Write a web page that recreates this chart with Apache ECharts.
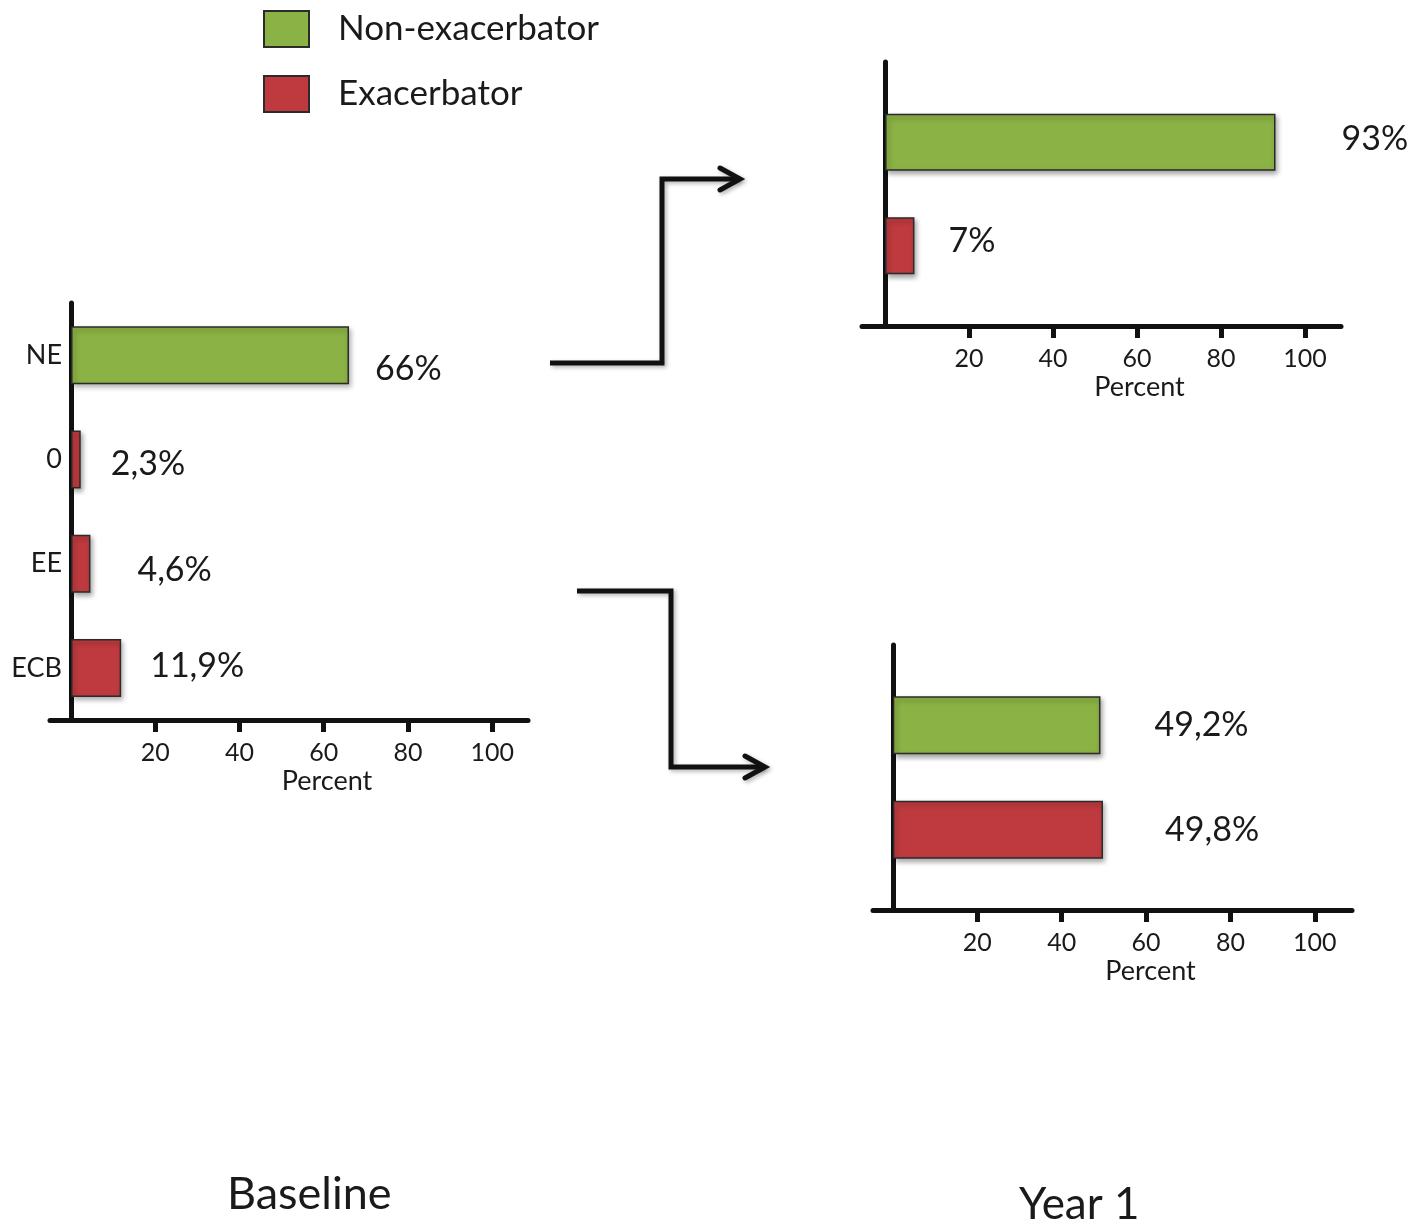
<!DOCTYPE html>
<html>
<head>
<meta charset="utf-8">
<script src="https://cdn.jsdelivr.net/npm/echarts@6/dist/echarts.min.js"></script>
<style>
  html, body { margin: 0; padding: 0; background: #fff; }
  #chart { width: 1426px; height: 1224px; }
</style>
</head>
<body>
<div id="chart"></div>
<script>
// ---- data ----
const seriesNames = ['Non-exacerbator', 'Exacerbator'];
const baselineCategories = ['NE', '0', 'EE', 'ECB'];
const baselineNonExacerbator = [66, null, null, null];
const baselineExacerbator = [null, 2.3, 4.6, 11.9];
const year1TopNonExacerbator = [93];
const year1TopExacerbator = [7];
const year1BottomNonExacerbator = [49.2];
const year1BottomExacerbator = [49.8];
const percentTicks = [20, 40, 60, 80, 100];
const panelTitles = ['Baseline', 'Year 1'];
const axisName = 'Percent';

// ---- styling ----
const GREEN = '#8BB244';
const RED = '#BF3A3E';
const FONT = 'Lato, "Open Sans", sans-serif';
const INK = '#1a1a1a';

// label gaps (px) between bar end and its label, per chart / per row
const gapsBaseline = [26, 30, 47, 29];
const gapsTop = [66, 34];
const gapsBottom = [54, 62];

function fmt(v) { return String(v).replace('.', ',') + '%'; }

function barItemStyle(color) {
  return {
    color: color,
    borderColor: '#2b2b2b',
    borderWidth: 1.5,
    shadowColor: 'rgba(0,0,0,0.35)',
    shadowBlur: 5,
    shadowOffsetX: 2,
    shadowOffsetY: 3
  };
}

function toData(values, gaps, offsets) {
  return values.map((v, i) => {
    if (v === null) return '-';
    return {
      value: v,
      label: { distance: gaps[i], offset: offsets ? offsets[i] : [0, 0] }
    };
  });
}

const labelStyle = {
  show: true,
  position: 'right',
  fontFamily: FONT,
  fontSize: 34,
  color: INK,
  formatter: p => fmt(p.value)
};

function xAxisFor(gridIndex, min, max) {
  return {
    type: 'value',
    gridIndex: gridIndex,
    min: min,
    max: max,
    name: axisName,
    nameLocation: 'middle',
    nameGap: 48,
    nameTextStyle: { fontFamily: FONT, fontSize: 27, color: INK, padding: [0, 0, 0, 76] },
    axisLine: { show: true, lineStyle: { color: '#111', width: 5 } },
    axisTick: { show: true, customValues: percentTicks, length: 12, lineStyle: { color: '#111', width: 5 } },
    axisLabel: { show: true, customValues: percentTicks, margin: 20, fontFamily: FONT, fontSize: 25, color: INK },
    splitLine: { show: false }
  };
}

function yAxisFor(gridIndex, cats, showLabels, inverse) {
  return {
    type: 'category',
    gridIndex: gridIndex,
    data: cats,
    inverse: inverse,
    axisLine: { show: true, onZero: true, lineStyle: { color: '#111', width: 5 } },
    axisTick: { show: false },
    axisLabel: { show: showLabels, margin: -12, fontFamily: FONT, fontSize: 27, color: INK },
    splitLine: { show: false }
  };
}

const gridBase = { containLabel: false, outerBoundsMode: 'none' };

const option = {
  backgroundColor: '#ffffff',
  animation: false,
  title: [
    { text: panelTitles[0], left: 227, top: 1172, padding: 0, textStyle: { fontFamily: FONT, fontSize: 45, fontWeight: 'normal', color: INK } },
    { text: panelTitles[1], left: 1019, top: 1183, padding: 0, textStyle: { fontFamily: FONT, fontSize: 44, fontWeight: 'normal', color: INK } }
  ],
  legend: {
    data: seriesNames,
    orient: 'vertical',
    left: 263,
    top: 10,
    padding: 0,
    itemWidth: 45,
    itemHeight: 36,
    itemGap: 27,
    icon: 'rect',
    textStyle: { fontFamily: FONT, fontSize: 35, color: INK, padding: [0, 0, 0, 24] }
  },
  grid: [
    Object.assign({ left: 50, top: 303, width: 478, height: 417 }, gridBase),
    Object.assign({ left: 862, top: 62, width: 479, height: 264 }, gridBase),
    Object.assign({ left: 873, top: 645, width: 479, height: 265 }, gridBase)
  ],
  xAxis: [
    xAxisFor(0, -5, 108.5),
    xAxisFor(1, -5.5, 108.6),
    xAxisFor(2, -4.7, 108.8)
  ],
  yAxis: [
    yAxisFor(0, baselineCategories, true, true),
    yAxisFor(1, [panelTitles[1]], false, false),
    yAxisFor(2, [panelTitles[1]], false, false)
  ],
  series: [
    {
      name: seriesNames[0], type: 'bar', xAxisIndex: 0, yAxisIndex: 0, stack: 'base',
      barWidth: 58, itemStyle: barItemStyle(GREEN), label: labelStyle,
      data: toData(baselineNonExacerbator, gapsBaseline, [[0, 14], [0, 0], [0, 0], [0, 0]])
    },
    {
      name: seriesNames[1], type: 'bar', xAxisIndex: 0, yAxisIndex: 0, stack: 'base',
      barWidth: 58, itemStyle: barItemStyle(RED), label: labelStyle,
      data: toData(baselineExacerbator, gapsBaseline, [[0, 0], [0, 5], [0, 6], [0, -2]])
    },
    {
      name: seriesNames[0], type: 'bar', xAxisIndex: 1, yAxisIndex: 1,
      barWidth: 57, barGap: '82%', itemStyle: barItemStyle(GREEN), label: labelStyle,
      data: toData(year1TopNonExacerbator, [gapsTop[0]], [[0, -3]])
    },
    {
      name: seriesNames[1], type: 'bar', xAxisIndex: 1, yAxisIndex: 1,
      barWidth: 57, barGap: '82%', itemStyle: barItemStyle(RED), label: labelStyle,
      data: toData(year1TopExacerbator, [gapsTop[1]], [[0, -5]])
    },
    {
      name: seriesNames[0], type: 'bar', xAxisIndex: 2, yAxisIndex: 2,
      barWidth: 58, barGap: '80%', itemStyle: barItemStyle(GREEN), label: labelStyle,
      data: toData(year1BottomNonExacerbator, [gapsBottom[0]])
    },
    {
      name: seriesNames[1], type: 'bar', xAxisIndex: 2, yAxisIndex: 2,
      barWidth: 58, barGap: '80%', itemStyle: barItemStyle(RED), label: labelStyle,
      data: toData(year1BottomExacerbator, [gapsBottom[1]])
    }
  ],
  graphic: [
    {
      type: 'polyline',
      shape: { points: [[550, 363], [662, 363], [662, 179], [738, 179]] },
      style: { stroke: '#111', lineWidth: 5, fill: null, lineJoin: 'miter', shadowColor: 'rgba(0,0,0,0.3)', shadowBlur: 4, shadowOffsetX: 2, shadowOffsetY: 2 }
    },
    {
      type: 'polyline',
      shape: { points: [[720, 168], [740, 179], [720, 190]] },
      style: { stroke: '#111', lineWidth: 5, fill: null, lineCap: 'round', lineJoin: 'miter', shadowColor: 'rgba(0,0,0,0.3)', shadowBlur: 4, shadowOffsetX: 2, shadowOffsetY: 2 }
    },
    {
      type: 'polyline',
      shape: { points: [[577, 591], [671, 591], [671, 767], [763, 767]] },
      style: { stroke: '#111', lineWidth: 5, fill: null, lineJoin: 'miter', shadowColor: 'rgba(0,0,0,0.3)', shadowBlur: 4, shadowOffsetX: 2, shadowOffsetY: 2 }
    },
    {
      type: 'polyline',
      shape: { points: [[745, 756], [765, 767], [745, 778]] },
      style: { stroke: '#111', lineWidth: 5, fill: null, lineCap: 'round', lineJoin: 'miter', shadowColor: 'rgba(0,0,0,0.3)', shadowBlur: 4, shadowOffsetX: 2, shadowOffsetY: 2 }
    }
  ]
};

const chart = echarts.init(document.getElementById('chart'), null, { renderer: 'canvas' });
chart.setOption(option);
</script>
</body>
</html>
